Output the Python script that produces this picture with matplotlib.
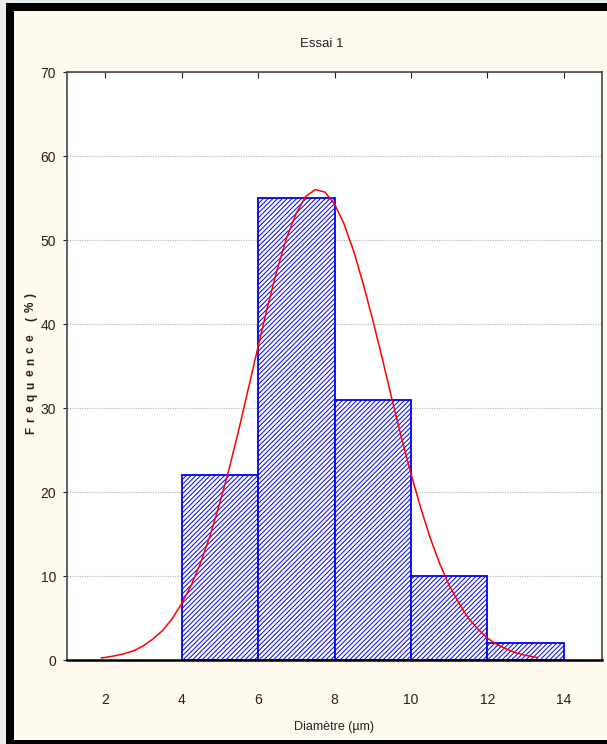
import matplotlib
matplotlib.use("Agg")
import matplotlib.pyplot as plt
from matplotlib.patches import Rectangle
from matplotlib.font_manager import FontProperties
from matplotlib.textpath import TextToPath

plt.rcParams['font.family'] = ['Liberation Sans', 'DejaVu Sans']
plt.rcParams['hatch.linewidth'] = 0.7
plt.rcParams['hatch.color'] = '#1010ff'

# Histogram bins (left edges, width 2) and frequencies (%)
bin_left = [4, 6, 8, 10, 12]
bin_width = 2
freq = [22, 55, 31, 10, 2]

# Fitted normal curve
curve_x = [1.9, 2.0, 2.25, 2.5, 2.75, 3.0, 3.25, 3.5, 3.75, 4.0, 4.25, 4.5, 4.75,
           5.0, 5.25, 5.5, 5.75, 6.0, 6.25, 6.5, 6.75, 7.0, 7.25, 7.5, 7.75,
           8.0, 8.25, 8.5, 8.75, 9.0, 9.25, 9.5, 9.75, 10.0, 10.25, 10.5, 10.75,
           11.0, 11.25, 11.5, 11.75, 12.0, 12.25, 12.5, 12.75, 13.0, 13.3]
curve_y = [0.25, 0.3, 0.5, 0.75, 1.1, 1.7, 2.5, 3.5, 4.9, 6.7, 8.9, 11.6, 14.9,
           18.7, 22.9, 27.5, 32.4, 37.3, 42.1, 46.5, 50.3, 53.2, 55.2, 56.0, 55.7,
           54.3, 51.9, 48.7, 44.8, 40.5, 35.9, 31.1, 26.5, 22.2, 18.2, 14.6, 11.5,
           8.9, 6.8, 5.0, 3.7, 2.6, 1.85, 1.3, 0.85, 0.55, 0.3]

xticks = [2, 4, 6, 8, 10, 12, 14]
yticks = [0, 10, 20, 30, 40, 50, 60, 70]

W, H = 607, 744
fig = plt.figure(figsize=(W / 100, H / 100), dpi=100, facecolor='#ececec')
# black frame and cream panel
fig.patches.append(Rectangle((6 / W, 0), 1, 1 - 3 / H, transform=fig.transFigure,
                             facecolor='black', edgecolor='none', zorder=-6))
fig.patches.append(Rectangle((14 / W, 4 / H), 1, 1 - 15 / H, transform=fig.transFigure,
                             facecolor='#fff9ee', edgecolor='none', zorder=-5))

ax = fig.add_axes([67 / W, 1 - 660 / H, 535 / W, 588 / H], zorder=2)
ax.set_facecolor('white')

ax.bar(bin_left, freq, width=bin_width, align='edge', facecolor='white',
       edgecolor='blue', linewidth=1.3, hatch='///////', zorder=2)
ax.plot(curve_x, curve_y, color='red', linewidth=1.1, zorder=3)

ax.set_xlim(1, 15)
ax.set_ylim(0, 70)
ax.set_xticks(xticks)
ax.set_yticks(yticks)
ax.yaxis.grid(True, linestyle=(0, (1, 1.2)), color='#b4b4b4', linewidth=0.8, zorder=0)
ax.set_axisbelow(True)

ax.tick_params(axis='x', which='both', bottom=False, top=True, direction='in',
               length=4, pad=24, labelsize=10, colors='#222222')
ax.tick_params(axis='y', direction='out', length=3, pad=5, labelsize=10,
               colors='#222222')

for s in ax.spines.values():
    s.set_color('#444444')
    s.set_linewidth(1.2)
ax.spines['bottom'].set_linewidth(1.8)
ax.spines['bottom'].set_color('black')

fig.text(322 / W, 1 - 44 / H, 'Essai 1', ha='center', va='center',
         fontsize=9.5, color='#222222')
fig.text(334 / W, 1 - 727 / H, 'Diamètre (µm)', ha='center', va='center',
         fontsize=9, color='#222222')

# y label: bold, widely letter-spaced, drawn char by char
ylabel = 'Frequence (%)'
size = 8.5
prop = FontProperties(family='Liberation Sans', weight='bold', size=size)
ttp = TextToPath()
widths = []
for ch in ylabel:
    if ch == ' ':
        widths.append(0.28 * size * 100 / 72)
    else:
        w, h, d = ttp.get_text_width_height_descent(ch, prop, ismath=False)
        widths.append(w * 100 / 72)
y0, y1 = 434, 293
extra = ((y0 - y1) - sum(widths)) / (len(ylabel) - 1)
ypos = y0
for ch, w in zip(ylabel, widths):
    if ch != ' ':
        fig.text(34 / W, 1 - ypos / H, ch, rotation=90, rotation_mode='anchor',
                 ha='left', va='baseline', fontproperties=prop, color='#222222')
    ypos -= w + extra

fig.savefig('out.png', dpi=100, facecolor=fig.get_facecolor())
